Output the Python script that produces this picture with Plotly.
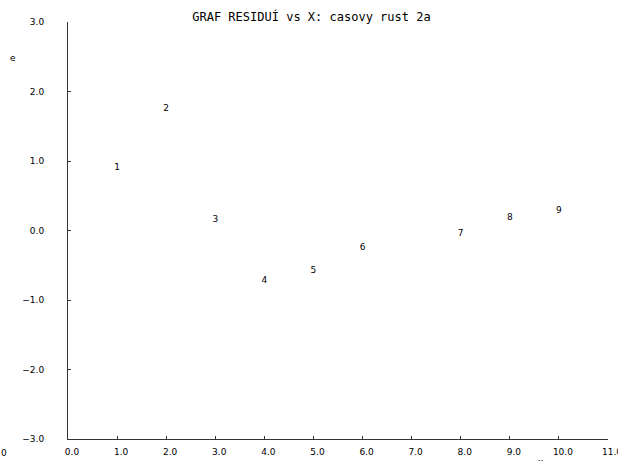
import plotly.graph_objects as go

# data
x_vals = [1, 2, 3, 4, 5, 6, 8, 9, 10]
residuals = [0.91, 1.745, 0.154, -0.73, -0.575, -0.255, -0.043, 0.19, 0.28]
point_labels = ["1", "2", "3", "4", "5", "6", "7", "8", "9"]
x_ticks = [0, 1, 2, 3, 4, 5, 6, 7, 8, 9, 10, 11]
y_ticks = [-3, -2, -1, 0, 1, 2, 3]

FONT = "DejaVu Sans"
L, R, T, B = 68, 10, 22, 22
W, H = 618, 461
PW, PH = W - L - R, H - T - B

fig = go.Figure()
fig.add_trace(go.Scatter(
    x=x_vals, y=residuals, text=point_labels, mode="text",
    textposition="middle center",
    textfont=dict(family=FONT, size=9, color="black"),
    hoverinfo="skip", showlegend=False,
))

axis_common = dict(
    showgrid=False, zeroline=False, showline=True, linecolor="#333",
    linewidth=1, ticks="inside", ticklen=3, tickcolor="#333",
    tickformat=".1f", tickfont=dict(family=FONT, size=9, color="black"),
    automargin=False, ticklabeloverflow="allow",
)

fig.update_layout(
    width=W, height=H,
    margin=dict(l=L, r=R, t=T, b=B, pad=0, autoexpand=False),
    paper_bgcolor="white", plot_bgcolor="white",
    title=dict(text="GRAF RESIDUÍ vs X: casovy rust 2a",
               font=dict(family="DejaVu Sans Mono", size=12, color="black"),
               x=0.504, xanchor="center", y=1 - 17 / H, yanchor="middle"),
    xaxis=dict(range=[0, 11], tickvals=x_ticks, ticklabelshift=4,
               ticklabelstandoff=4, **axis_common),
    yaxis=dict(range=[-3, 3], tickvals=y_ticks, ticklabelstandoff=21,
               **axis_common),
)

def px_ann(text, px, py, size=9):
    fig.add_annotation(
        text=text, xref="paper", yref="paper",
        x=(px - L) / PW, y=(H - B - py) / PH,
        xanchor="center", yanchor="middle", showarrow=False,
        font=dict(family=FONT, size=size, color="black"),
    )

px_ann("e", 13, 58)
px_ann("0", 4, 453)
px_ann("x", 541, 462)

fig.write_html("out.html")
